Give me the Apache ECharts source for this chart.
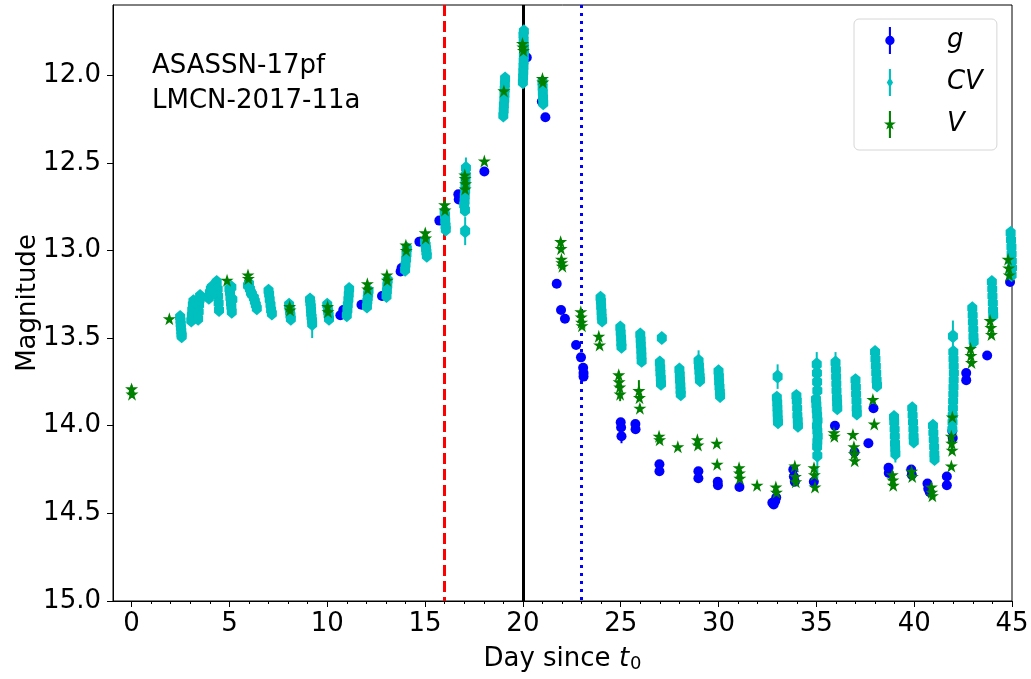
<!DOCTYPE html>
<html>
<head>
<meta charset="utf-8">
<title>ASASSN-17pf light curve</title>
<script src="https://cdn.jsdelivr.net/npm/echarts@6/dist/echarts.min.js"></script>
<style>
  html, body { margin: 0; padding: 0; background: #ffffff; }
  #chart { width: 1031px; height: 679px; }
</style>
</head>
<body>
<div id="chart"></div>
<script>
// Photometry of ASASSN-17pf / LMCN-2017-11a. Each point: [day since t0, magnitude, 1-sigma error]

// g band (ASAS-SN)
const gPoints = [
  [10.67, 13.37, 0.01], [10.82, 13.34, 0.01], [11.75, 13.31, 0.01], [12.80, 13.26, 0.01],
  [13.75, 13.12, 0.01], [13.80, 13.10, 0.01], [14.71, 12.95, 0.01], [15.73, 12.83, 0.01],
  [16.70, 12.68, 0.01], [16.72, 12.71, 0.01], [18.03, 12.55, 0.01], [20.20, 11.90, 0.01],
  [20.97, 12.15, 0.01], [21.15, 12.24, 0.01], [21.73, 13.19, 0.01], [21.95, 13.34, 0.01],
  [22.15, 13.39, 0.01], [22.72, 13.54, 0.01], [22.97, 13.61, 0.01], [23.08, 13.67, 0.01],
  [23.10, 13.70, 0.01], [23.10, 13.72, 0.01], [25.00, 13.98, 0.02], [25.02, 14.01, 0.02],
  [25.04, 14.06, 0.04], [25.75, 13.99, 0.01], [25.76, 14.02, 0.01], [26.98, 14.22, 0.01],
  [26.98, 14.26, 0.01], [28.97, 14.26, 0.01], [28.97, 14.30, 0.01], [29.96, 14.32, 0.01],
  [29.97, 14.34, 0.01], [31.07, 14.35, 0.01], [32.75, 14.44, 0.01], [32.82, 14.45, 0.01],
  [32.90, 14.43, 0.01], [32.95, 14.41, 0.01], [33.82, 14.25, 0.01], [33.85, 14.29, 0.01],
  [33.90, 14.32, 0.01], [34.87, 14.32, 0.01], [35.95, 14.00, 0.01], [36.95, 14.15, 0.01],
  [37.66, 14.10, 0.01], [37.92, 13.90, 0.01], [38.69, 14.24, 0.01], [38.70, 14.27, 0.01],
  [39.85, 14.25, 0.01], [39.88, 14.28, 0.01], [40.68, 14.33, 0.01], [40.72, 14.36, 0.01],
  [40.80, 14.38, 0.01], [41.67, 14.29, 0.01], [41.67, 14.34, 0.01], [41.95, 14.03, 0.01],
  [41.97, 14.07, 0.01], [42.66, 13.70, 0.01], [42.66, 13.74, 0.01], [43.73, 13.60, 0.01],
  [44.90, 13.18, 0.01]
];

// Unfiltered CV photometry (V zero point), many exposures per night
const cvPoints = [
  [2.48, 13.38, 0.015], [2.50, 13.40, 0.015], [2.51, 13.42, 0.015], [2.52, 13.44, 0.015],
  [2.54, 13.46, 0.015], [2.55, 13.48, 0.015], [2.56, 13.49, 0.015],
  [3.05, 13.40, 0.015], [3.08, 13.37, 0.015], [3.10, 13.34, 0.015], [3.13, 13.31, 0.015],
  [3.16, 13.29, 0.015], [3.40, 13.39, 0.015], [3.43, 13.35, 0.015], [3.45, 13.31, 0.015],
  [3.48, 13.28, 0.015], [3.50, 13.26, 0.015],
  [3.95, 13.27, 0.015], [4.00, 13.24, 0.015], [4.05, 13.22, 0.015], [4.10, 13.21, 0.015],
  [4.15, 13.23, 0.015], [4.30, 13.19, 0.015], [4.35, 13.18, 0.015], [4.40, 13.22, 0.015],
  [4.42, 13.26, 0.015], [4.45, 13.30, 0.015], [4.47, 13.34, 0.015],
  [5.00, 13.22, 0.015], [5.03, 13.24, 0.015], [5.05, 13.27, 0.015], [5.08, 13.30, 0.015],
  [5.10, 13.32, 0.015], [5.12, 13.35, 0.015], [5.15, 13.28, 0.015], [5.10, 13.21, 0.015],
  [5.95, 13.20, 0.015], [6.00, 13.19, 0.015], [6.05, 13.22, 0.015], [6.10, 13.24, 0.015],
  [6.15, 13.25, 0.015], [6.25, 13.27, 0.015], [6.30, 13.29, 0.015], [6.35, 13.31, 0.015],
  [6.40, 13.33, 0.015],
  [7.00, 13.23, 0.015], [7.03, 13.25, 0.015], [7.06, 13.28, 0.015], [7.10, 13.31, 0.015],
  [7.13, 13.34, 0.015], [7.17, 13.36, 0.015],
  [8.05, 13.31, 0.015], [8.08, 13.33, 0.015], [8.10, 13.35, 0.015], [8.12, 13.37, 0.015],
  [8.14, 13.39, 0.015],
  [9.12, 13.28, 0.015], [9.14, 13.30, 0.015], [9.16, 13.32, 0.015], [9.17, 13.34, 0.015],
  [9.18, 13.36, 0.015], [9.20, 13.38, 0.015], [9.22, 13.40, 0.015], [9.23, 13.42, 0.080],
  [10.00, 13.31, 0.015], [10.03, 13.33, 0.015], [10.05, 13.35, 0.015], [10.07, 13.37, 0.015],
  [10.09, 13.39, 0.015],
  [11.00, 13.37, 0.015], [11.03, 13.34, 0.015], [11.05, 13.31, 0.015], [11.08, 13.28, 0.015],
  [11.10, 13.25, 0.015], [11.12, 13.22, 0.015],
  [12.03, 13.32, 0.015], [12.05, 13.29, 0.015], [12.07, 13.27, 0.015], [12.09, 13.25, 0.015],
  [12.11, 13.23, 0.015],
  [13.03, 13.26, 0.015], [13.05, 13.23, 0.015], [13.07, 13.20, 0.015], [13.09, 13.17, 0.015],
  [13.98, 13.11, 0.015], [14.00, 13.08, 0.015], [14.03, 13.05, 0.015], [14.05, 13.02, 0.015],
  [14.07, 12.99, 0.015],
  [15.00, 12.95, 0.015], [15.03, 12.97, 0.015], [15.05, 12.99, 0.015], [15.07, 13.01, 0.015],
  [15.09, 13.03, 0.015],
  [16.00, 12.78, 0.015], [16.02, 12.80, 0.015], [16.03, 12.83, 0.015], [16.05, 12.86, 0.015],
  [16.06, 12.88, 0.015],
  [17.00, 12.74, 0.015], [17.02, 12.72, 0.015], [17.03, 12.69, 0.015], [17.05, 12.66, 0.015],
  [17.06, 12.63, 0.015], [17.07, 12.60, 0.015], [17.08, 12.57, 0.015], [17.09, 12.53, 0.060],
  [17.04, 12.77, 0.015], [17.05, 12.89, 0.080],
  [19.00, 12.23, 0.015], [19.02, 12.20, 0.015], [19.03, 12.17, 0.015], [19.05, 12.14, 0.015],
  [19.06, 12.11, 0.015], [19.07, 12.08, 0.015], [19.08, 12.05, 0.015], [19.09, 12.02, 0.015],
  [20.00, 12.04, 0.030], [20.01, 12.01, 0.015], [20.02, 11.98, 0.015], [20.03, 11.95, 0.015],
  [20.04, 11.92, 0.015], [20.05, 11.89, 0.015], [20.06, 11.86, 0.015], [20.05, 11.83, 0.015],
  [20.04, 11.80, 0.015], [20.03, 11.77, 0.015], [20.05, 11.75, 0.015],
  [21.00, 12.04, 0.015], [21.01, 12.07, 0.015], [21.02, 12.10, 0.015], [21.03, 12.13, 0.015],
  [21.04, 12.16, 0.015],
  [23.97, 13.27, 0.015], [23.99, 13.29, 0.015], [24.00, 13.32, 0.015], [24.02, 13.35, 0.015],
  [24.03, 13.38, 0.015], [24.05, 13.40, 0.015],
  [24.98, 13.44, 0.015], [25.00, 13.47, 0.015], [25.02, 13.50, 0.015], [25.03, 13.53, 0.015],
  [25.04, 13.55, 0.015],
  [26.00, 13.48, 0.015], [26.02, 13.51, 0.015], [26.03, 13.54, 0.015], [26.05, 13.57, 0.015],
  [26.06, 13.60, 0.015], [26.07, 13.63, 0.015],
  [27.10, 13.50, 0.020],
  [27.00, 13.64, 0.015], [27.02, 13.67, 0.015], [27.03, 13.70, 0.015], [27.05, 13.73, 0.015],
  [27.06, 13.76, 0.015],
  [28.00, 13.68, 0.015], [28.02, 13.71, 0.015], [28.03, 13.74, 0.015], [28.05, 13.77, 0.015],
  [28.06, 13.80, 0.015], [28.07, 13.82, 0.015],
  [28.98, 13.63, 0.060], [29.00, 13.66, 0.015], [29.02, 13.69, 0.015], [29.04, 13.72, 0.015],
  [29.05, 13.74, 0.015],
  [30.00, 13.69, 0.015], [30.02, 13.72, 0.015], [30.03, 13.75, 0.015], [30.05, 13.78, 0.015],
  [30.07, 13.81, 0.015], [30.08, 13.83, 0.015],
  [33.02, 13.72, 0.070], [32.98, 13.84, 0.015], [33.00, 13.87, 0.015], [33.01, 13.90, 0.015],
  [33.02, 13.93, 0.015], [33.03, 13.96, 0.015], [33.04, 13.98, 0.015],
  [33.98, 13.83, 0.015], [34.00, 13.86, 0.015], [34.02, 13.90, 0.015], [34.03, 13.94, 0.015],
  [34.05, 13.97, 0.015], [34.06, 14.00, 0.015],
  [35.02, 13.65, 0.070], [35.03, 13.70, 0.040], [35.04, 13.75, 0.030], [35.05, 13.80, 0.030],
  [34.98, 13.85, 0.015], [35.00, 13.88, 0.015], [35.02, 13.91, 0.015], [35.04, 13.94, 0.015],
  [35.06, 13.97, 0.015], [35.03, 14.00, 0.015], [35.05, 14.03, 0.015], [35.07, 14.06, 0.015],
  [35.05, 14.09, 0.015], [35.04, 14.12, 0.015], [35.05, 14.17, 0.130],
  [35.98, 13.64, 0.060], [36.00, 13.68, 0.015], [36.01, 13.72, 0.015], [36.02, 13.76, 0.015],
  [36.03, 13.80, 0.015], [36.05, 13.84, 0.015], [36.06, 13.87, 0.015], [36.07, 13.90, 0.015],
  [37.00, 13.74, 0.015], [37.02, 13.78, 0.015], [37.03, 13.82, 0.015], [37.05, 13.86, 0.015],
  [37.06, 13.90, 0.015], [37.07, 13.93, 0.015],
  [38.00, 13.58, 0.015], [38.02, 13.62, 0.015], [38.04, 13.66, 0.015], [38.06, 13.70, 0.015],
  [38.08, 13.74, 0.015], [38.10, 13.77, 0.015],
  [38.97, 13.95, 0.015], [38.98, 13.98, 0.015], [39.00, 14.02, 0.015], [39.01, 14.06, 0.015],
  [39.02, 14.10, 0.015], [39.03, 14.13, 0.015], [39.04, 14.16, 0.050],
  [39.90, 13.90, 0.015], [39.92, 13.94, 0.015], [39.94, 13.98, 0.015], [39.96, 14.02, 0.015],
  [39.97, 14.06, 0.015], [39.98, 14.09, 0.015],
  [40.96, 14.00, 0.015], [40.98, 14.04, 0.015], [41.00, 14.08, 0.015], [41.02, 14.12, 0.015],
  [41.03, 14.16, 0.015], [41.04, 14.19, 0.015],
  [41.98, 13.49, 0.090], [42.00, 13.58, 0.015], [42.01, 13.62, 0.015], [42.02, 13.66, 0.015],
  [42.03, 13.70, 0.015], [42.02, 13.74, 0.015], [42.01, 13.78, 0.015], [42.00, 13.82, 0.015],
  [41.99, 13.86, 0.015], [41.98, 13.90, 0.015], [41.97, 13.94, 0.015], [41.96, 13.98, 0.015],
  [41.95, 14.02, 0.015],
  [42.97, 13.33, 0.015], [42.99, 13.37, 0.015], [43.00, 13.41, 0.015], [43.02, 13.45, 0.015],
  [43.03, 13.49, 0.015], [43.04, 13.52, 0.015],
  [43.97, 13.18, 0.015], [43.99, 13.22, 0.015], [44.00, 13.26, 0.015], [44.02, 13.30, 0.015],
  [44.03, 13.34, 0.015], [44.04, 13.37, 0.015],
  [44.93, 12.90, 0.015], [44.95, 12.94, 0.015], [44.97, 12.98, 0.015], [44.98, 13.02, 0.015],
  [44.99, 13.06, 0.015], [45.00, 13.10, 0.015], [44.98, 13.14, 0.015]
];

// V band
const vPoints = [
  [0.00, 13.79, 0.02], [0.02, 13.82, 0.02], [1.93, 13.39, 0.01], [4.88, 13.17, 0.01],
  [5.95, 13.14, 0.01], [5.97, 13.16, 0.01], [8.08, 13.32, 0.01], [8.10, 13.34, 0.01],
  [10.02, 13.32, 0.01], [10.04, 13.35, 0.01], [12.05, 13.19, 0.01], [12.07, 13.22, 0.01],
  [13.05, 13.14, 0.01], [13.07, 13.17, 0.01], [14.02, 12.97, 0.01], [14.04, 13.00, 0.01],
  [15.01, 12.90, 0.01], [15.03, 12.93, 0.01], [16.00, 12.74, 0.01], [16.02, 12.77, 0.01],
  [17.03, 12.57, 0.01], [17.05, 12.59, 0.01], [17.07, 12.62, 0.01], [17.05, 12.65, 0.01],
  [18.03, 12.49, 0.01], [19.03, 12.09, 0.01], [19.98, 11.82, 0.01], [20.00, 11.84, 0.01],
  [20.03, 11.86, 0.01], [21.00, 12.02, 0.01], [21.02, 12.04, 0.01],
  [21.93, 12.95, 0.01], [21.95, 12.99, 0.01], [21.97, 13.05, 0.01], [21.99, 13.07, 0.01],
  [22.02, 13.09, 0.01], [22.96, 13.35, 0.01], [22.98, 13.38, 0.01], [23.00, 13.41, 0.01],
  [23.02, 13.43, 0.01], [23.88, 13.49, 0.01], [23.92, 13.54, 0.01],
  [24.90, 13.71, 0.02], [24.92, 13.75, 0.02], [24.95, 13.78, 0.02], [24.97, 13.82, 0.04],
  [25.93, 13.80, 0.06], [25.96, 13.84, 0.02], [25.98, 13.90, 0.02],
  [26.96, 14.06, 0.01], [26.99, 14.08, 0.01], [27.92, 14.12, 0.01],
  [28.92, 14.08, 0.01], [28.95, 14.11, 0.01], [29.91, 14.10, 0.01], [29.93, 14.22, 0.01],
  [31.05, 14.24, 0.01], [31.07, 14.27, 0.01], [31.09, 14.30, 0.01], [31.97, 14.34, 0.01],
  [32.93, 14.35, 0.01], [32.96, 14.38, 0.01],
  [33.90, 14.23, 0.01], [33.93, 14.29, 0.01], [33.95, 14.32, 0.01],
  [34.88, 14.24, 0.01], [34.90, 14.28, 0.01], [34.93, 14.35, 0.01],
  [35.90, 14.04, 0.01], [35.92, 14.06, 0.01],
  [36.87, 14.05, 0.01], [36.92, 14.12, 0.01], [36.94, 14.16, 0.01], [36.96, 14.20, 0.01],
  [37.89, 13.85, 0.01], [37.96, 13.99, 0.01],
  [38.88, 14.28, 0.01], [38.91, 14.31, 0.01], [38.93, 14.34, 0.01],
  [39.87, 14.26, 0.01], [39.90, 14.29, 0.01],
  [40.88, 14.35, 0.01], [40.90, 14.38, 0.01], [40.93, 14.40, 0.01],
  [41.95, 13.95, 0.01], [41.90, 14.06, 0.01], [41.92, 14.10, 0.01], [41.94, 14.14, 0.01],
  [41.90, 14.23, 0.01],
  [42.88, 13.56, 0.01], [42.90, 13.60, 0.01], [42.93, 13.64, 0.01],
  [43.88, 13.40, 0.01], [43.92, 13.44, 0.01], [43.95, 13.48, 0.01],
  [44.80, 13.05, 0.01], [44.83, 13.10, 0.01], [44.86, 13.14, 0.01]
];

// Axis ticks
const xMajorTicks = [0, 5, 10, 15, 20, 25, 30, 35, 40, 45];
const xMinorTicks = [];
for (let d = 0; d <= 45; d++) xMinorTicks.push(d);
const yTicks = [12.0, 12.5, 13.0, 13.5, 14.0, 14.5, 15.0];

// Reference epochs (days since t0)
const dashedDay = 16;
const peakDay = 20;
const dottedDay = 23;

const objectLabels = ['ASASSN-17pf', 'LMCN-2017-11a'];

const FONT = 'DejaVu Sans';
const C_G = '#0000ff', C_CV = '#00bfbf', C_V = '#008000';

const STAR = 'path://M0,-1 L0.2245,-0.309 L0.951,-0.309 L0.363,0.118 L0.588,0.809 L0,0.382 L-0.588,0.809 L-0.363,0.118 L-0.951,-0.309 L-0.2245,-0.309 Z';
// elongated diamond with blunt sides so that stacked exposures merge into a smooth band
const CV_MARK = 'path://M0,-1 L0.5,-0.4 L0.5,0.4 L0,1 L-0.5,0.4 L-0.5,-0.4 Z';

// legend glyphs: vertical error bar with the marker on it
const LEG_G = 'path://M-1,-13 L1,-13 L1,13 L-1,13 Z M0,-4.5 A4.5,4.5 0 1 1 0,4.5 A4.5,4.5 0 1 1 0,-4.5 Z';
const LEG_CV = 'path://M-1,-13 L1,-13 L1,13 L-1,13 Z M0,-5 L3,0 L0,5 L-3,0 Z';
const LEG_V = 'path://M-1,-13 L1,-13 L1,13 L-1,13 Z M0,-6 L1.35,-1.85 L5.7,-1.85 L2.18,0.71 L3.53,4.85 L0,2.29 L-3.53,4.85 L-2.18,0.71 L-5.7,-1.85 L-1.35,-1.85 Z';

function errorBars(name, pts, color, z) {
  return {
    type: 'custom',
    name: name,
    z: z,
    silent: true,
    clip: true,
    data: pts.map(p => [p[0], p[1] - p[2], p[1] + p[2]]),
    encode: { x: 0, y: [1, 2] },
    renderItem: function (params, api) {
      const a = api.coord([api.value(0), api.value(1)]);
      const b = api.coord([api.value(0), api.value(2)]);
      return {
        type: 'line',
        shape: { x1: a[0], y1: a[1], x2: b[0], y2: b[1] },
        style: { stroke: color, lineWidth: 2 }
      };
    }
  };
}

function markers(name, pts, color, symbol, size, z) {
  return {
    type: 'scatter',
    name: name,
    z: z,
    silent: true,
    symbol: symbol,
    symbolSize: size,
    itemStyle: { color: color, opacity: 1 },
    data: pts.map(p => [p[0], p[1]])
  };
}

const chart = echarts.init(document.getElementById('chart'), null, { renderer: 'canvas' });

const axisFont = { fontFamily: FONT, fontSize: 26, color: '#000000' };

chart.setOption({
  animation: false,
  backgroundColor: '#ffffff',
  grid: {
    left: 113, right: 19, top: 5, bottom: 78,
    outerBoundsMode: 'none',
    containLabel: false,
    show: true, borderColor: '#000000', borderWidth: 1, backgroundColor: 'transparent'
  },
  legend: {
    orient: 'vertical',
    left: 854,
    top: 19,
    padding: [8, 14, 12, 30],
    itemWidth: 12,
    itemHeight: 27,
    itemGap: 15,
    borderColor: '#d6d6d6',
    borderWidth: 1,
    borderRadius: 5,
    backgroundColor: 'rgba(255,255,255,0.8)',
    selectedMode: false,
    textStyle: {
      fontFamily: FONT, fontSize: 26, fontStyle: 'italic', color: '#000000',
      padding: [0, 0, 0, 46], lineHeight: 27
    },
    data: [
      { name: 'g', icon: LEG_G, itemStyle: { color: C_G } },
      { name: 'CV', icon: LEG_CV, itemStyle: { color: C_CV } },
      { name: 'V', icon: LEG_V, itemStyle: { color: C_V } }
    ]
  },
  xAxis: [
    {
      type: 'value',
      min: -0.95, max: 45,
      position: 'bottom',
      axisLine: { show: true, onZero: false, lineStyle: { color: '#000000', width: 1 } },
      axisTick: { show: true, inside: false, length: 6, customValues: xMajorTicks, lineStyle: { color: '#000000', width: 1 } },
      axisLabel: Object.assign({ customValues: xMajorTicks, margin: 10 }, axisFont),
      splitLine: { show: false },
      name: '{a|Day since }{t|t}{s|0}',
      nameLocation: 'middle',
      nameGap: 44,
      nameTextStyle: {
        rich: {
          a: { fontFamily: FONT, fontSize: 26, color: '#000000' },
          t: { fontFamily: FONT, fontSize: 26, fontStyle: 'italic', color: '#000000' },
          s: { fontFamily: FONT, fontSize: 18, color: '#000000', padding: [10, 0, 0, 1] }
        }
      }
    },
    {
      type: 'value',
      min: -0.95, max: 45,
      position: 'bottom',
      axisLine: { show: false, onZero: false },
      axisTick: { show: true, inside: false, length: 3, customValues: xMinorTicks, lineStyle: { color: '#000000', width: 1 } },
      axisLabel: { show: false },
      splitLine: { show: false }
    }
  ],
  yAxis: {
    type: 'value',
    inverse: true,
    min: 11.6, max: 15.0,
    axisLine: { show: true, onZero: false, lineStyle: { color: '#000000', width: 1 } },
    axisTick: { show: true, inside: false, length: 6, customValues: yTicks, lineStyle: { color: '#000000', width: 1 } },
    axisLabel: Object.assign({ customValues: yTicks, margin: 12, formatter: v => Number(v).toFixed(1) }, axisFont),
    splitLine: { show: false },
    name: 'Magnitude',
    nameLocation: 'middle',
    nameMoveOverlap: false,
    nameGap: 72,
    nameTextStyle: { fontFamily: FONT, fontSize: 26, color: '#000000' }
  },
  graphic: [
    { type: 'text', left: 152, top: 53, silent: true,
      style: { text: objectLabels[0], font: '26px "DejaVu Sans"', fill: '#000000' } },
    { type: 'text', left: 152, top: 88, silent: true,
      style: { text: objectLabels[1], font: '26px "DejaVu Sans"', fill: '#000000' } }
  ],
  series: [
    {
      type: 'line',
      name: 'epochs',
      data: [],
      z: 1,
      silent: true,
      markLine: {
        silent: true,
        symbol: 'none',
        label: { show: false },
        animation: false,
        data: [
          { xAxis: dashedDay, lineStyle: { color: '#ff0000', width: 3, type: [11, 5] } },
          { xAxis: peakDay, lineStyle: { color: '#000000', width: 3, type: 'solid' } },
          { xAxis: dottedDay, lineStyle: { color: '#0000ff', width: 3, type: [3, 5] } }
        ]
      }
    },
    errorBars('g', gPoints, C_G, 2),
    markers('g', gPoints, C_G, 'circle', 10, 3),
    errorBars('CV', cvPoints, C_CV, 4),
    markers('CV', cvPoints, C_CV, CV_MARK, [10, 14], 5),
    errorBars('V', vPoints, C_V, 6),
    markers('V', vPoints, C_V, STAR, 13, 7)
  ]
});
</script>
</body>
</html>
